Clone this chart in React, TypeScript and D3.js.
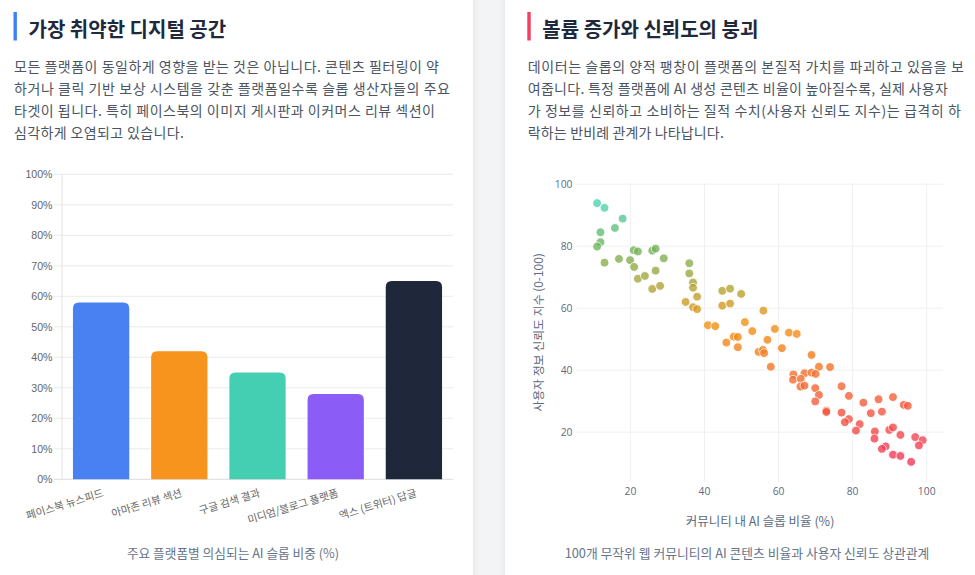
import * as d3 from 'd3';

// left card: share of suspected AI slop by platform
const platforms = ['페이스북 뉴스피드', '아마존 리뷰 섹션', '구글 검색 결과', '미디엄/블로그 플랫폼', '엑스 (트위터) 답글'];
const slopShare = [58, 42, 35, 28, 65];
const barColors = ['#4a81f2', '#f7941d', '#44cfb3', '#8b5cf6', '#1f283a'];
const pctTicks = [0, 10, 20, 30, 40, 50, 60, 70, 80, 90, 100];

// right card: 100 communities, AI slop ratio vs. trust index
const aiRatio = [
  11.0, 13.0, 17.9, 15.8, 11.9, 11.9, 11.0, 13.0, 16.9, 20.9, 22.0, 19.9, 21.0, 22.0, 23.9, 25.9,
  26.8, 26.8, 25.9, 28.0, 29.0, 35.9, 35.9, 36.9, 36.9, 38.0, 34.9, 36.9, 38.0, 44.8, 46.9, 49.9,
  44.8, 46.9, 40.9, 42.9, 50.9, 52.9, 47.9, 49.0, 45.9, 49.0, 54.6, 55.9, 59.0, 62.8, 64.9, 57.0,
  55.8, 56.1, 60.9, 57.9, 68.9, 70.9, 73.9, 64.0, 67.0, 68.9, 70.0, 63.9, 66.0, 65.9, 67.0, 69.9,
  70.9, 69.9, 72.9, 72.9, 77.0, 79.0, 82.9, 87.0, 90.9, 93.8, 94.9, 77.0, 84.9, 87.9, 79.0, 77.9,
  81.9, 80.9, 86.0, 89.9, 90.9, 92.9, 85.9, 96.9, 98.9, 97.9, 88.9, 87.9, 90.9, 92.9, 95.8,
];
const trustIndex = [
  93.9, 92.4, 88.9, 85.9, 84.5, 81.3, 79.9, 74.7, 75.9, 78.7, 78.3, 75.5, 73.3, 69.5, 70.4, 78.6,
  79.2, 72.1, 66.2, 67.2, 76.1, 74.5, 71.2, 68.3, 66.6, 63.7, 62.0, 60.3, 59.7, 65.6, 66.3, 64.6,
  60.8, 61.5, 54.5, 54.2, 55.5, 52.6, 50.8, 50.7, 48.9, 47.4, 45.9, 59.2, 53.3, 52.1, 51.7, 49.8,
  46.5, 45.5, 47.1, 41.1, 44.9, 41.1, 41.0, 38.6, 39.0, 39.2, 38.8, 36.9, 37.2, 34.7, 35.0, 34.2,
  32.0, 29.9, 26.9, 26.5, 34.8, 31.7, 29.5, 30.6, 31.3, 28.8, 28.5, 26.3, 26.1, 26.6, 24.2, 23.2,
  22.6, 20.5, 20.2, 20.7, 21.5, 19.1, 17.9, 18.4, 17.4, 15.7, 15.4, 14.6, 12.7, 12.3, 10.4,
];
const axisTicks = [20, 40, 60, 80, 100];
// marker colour follows the trust index
const trustStops = [12, 55, 65, 80, 94];
const trustColors = ['#f43859', '#f49311', '#bba231', '#6fb55e', '#4fd3b5'];

const leftText = [
  '모든 플랫폼이 동일하게 영향을 받는 것은 아닙니다. 콘텐츠 필터링이 약',
  '하거나 클릭 기반 보상 시스템을 갖춘 플랫폼일수록 슬롭 생산자들의 주요',
  '타겟이 됩니다. 특히 페이스북의 이미지 게시판과 이커머스 리뷰 섹션이',
  '심각하게 오염되고 있습니다.',
];
const rightText = [
  '데이터는 슬롭의 양적 팽창이 플랫폼의 본질적 가치를 파괴하고 있음을 보',
  '여줍니다. 특정 플랫폼에 AI 생성 콘텐츠 비율이 높아질수록, 실제 사용자',
  '가 정보를 신뢰하고 소비하는 질적 수치(사용자 신뢰도 지수)는 급격히 하',
  '락하는 반비례 관계가 나타납니다.',
];
// measured line widths of the paragraphs (the page font is proportional)
const leftWidths = [425, 436, 421, 170];
const rightWidths = [436, 420, 433, 196];

const W = 975;
const H = 575;
const KR = "'Noto Sans CJK KR', 'Noto Sans', sans-serif";
const LATIN = "'Liberation Sans', Arial, 'Noto Sans CJK KR', sans-serif";

function topRounded(x: number, y: number, w: number, h: number, r: number) {
  const rr = Math.min(r, w / 2, h);
  return `M${x},${y + h}V${y + rr}Q${x},${y} ${x + rr},${y}H${x + w - rr}Q${x + w},${y} ${x + w},${y + rr}V${y + h}Z`;
}

function Header({ x, color, title, lines, widths }: { x: number; color: string; title: string; lines: string[]; widths: number[] }) {
  return (
    <g>
      <rect x={x} y={12} width={3.4} height={28.5} fill={color} />
      <text x={x + 15} y={28} dominantBaseline="central" fontFamily={KR} fontSize={20} fontWeight={700} fill="#1e293b">
        {title}
      </text>
      {lines.map((l, i) => (
        <text
          key={i}
          x={x + 0.5}
          y={66 + i * 21.9}
          dominantBaseline="central"
          fontFamily={KR}
          fontSize={14}
          fill="#4b5563"
          textLength={widths[i]}
          lengthAdjust="spacing"
        >
          {l}
        </text>
      ))}
    </g>
  );
}

function BarChart() {
  const x = d3.scaleBand<string>().domain(platforms).range([62, 453]).paddingInner(0.28).paddingOuter(0.14);
  const y = d3.scaleLinear().domain([0, 100]).range([479.3, 174.3]);
  return (
    <g>
      {pctTicks.map((t) => (
        <g key={t}>
          <line x1={54} x2={453} y1={y(t)} y2={y(t)} stroke={t === 0 ? '#dcdcdc' : '#ececec'} strokeWidth={1} />
          <text x={52.5} y={y(t)} textAnchor="end" dominantBaseline="central" fontFamily={LATIN} fontSize={10.6} fill="#666">
            {t}%
          </text>
        </g>
      ))}
      <line x1={62} x2={62} y1={174.3} y2={479.3} stroke="#e2e2e2" />
      {platforms.map((p, i) => (
        <path
          key={p}
          d={topRounded(x(p)!, y(slopShare[i]), x.bandwidth(), y(0) - y(slopShare[i]), 6)}
          fill={barColors[i]}
        />
      ))}
      {platforms.map((p) => {
        const cx = x(p)! + x.bandwidth() / 2;
        return (
          <text
            key={p}
            transform={`translate(${cx + 1},${488.5}) rotate(-17)`}
            textAnchor="end"
            dy="0.75em"
            fontFamily={KR}
            fontSize={10.6}
            fill="#666"
          >
            {p}
          </text>
        );
      })}
      <text x={233} y={552.5} textAnchor="middle" dominantBaseline="central" fontFamily={KR} fontSize={12.7} fill="#64748b">
        주요 플랫폼별 의심되는 AI 슬롭 비중 (%)
      </text>
    </g>
  );
}

function Scatter() {
  const left = 576;
  const right = 943;
  const top = 183;
  const bottom = 482;
  const x = d3.scaleLinear().domain([5.3, 104.4]).range([left, right]);
  const y = d3.scaleLinear().domain([3.9, 100.4]).range([bottom, top]);
  const color = d3
    .scaleLinear<string>()
    .domain(trustStops)
    .range(trustColors)
    .interpolate(d3.interpolateRgb)
    .clamp(true);
  const pts = aiRatio.map((v, i) => ({ ai: v, trust: trustIndex[i] }));
  return (
    <g>
      {axisTicks.map((t) => (
        <g key={t}>
          <line x1={left} x2={right} y1={y(t)} y2={y(t)} stroke="#eef0f3" />
          <line x1={x(t)} x2={x(t)} y1={top} y2={bottom} stroke="#eef0f3" />
          <text x={left - 3.5} y={y(t)} textAnchor="end" dominantBaseline="central" fontFamily="'Open Sans', sans-serif" fontSize={10.3} fill="#5b6b82">
            {t}
          </text>
          <text x={x(t)} y={491} textAnchor="middle" dominantBaseline="central" fontFamily="'Open Sans', sans-serif" fontSize={10.3} fill="#5b6b82">
            {t}
          </text>
        </g>
      ))}
      {pts.map((d, i) => (
        <circle
          key={i}
          cx={x(d.ai)}
          cy={y(d.trust)}
          r={4.4}
          fill={color(d.trust)}
          stroke="#fff"
          strokeWidth={0.9}
          opacity={0.8}
        />
      ))}
      <text
        transform={`translate(537.5,${(top + bottom) / 2}) rotate(-90)`}
        textAnchor="middle"
        dominantBaseline="central"
        fontFamily={KR}
        fontSize={11.9}
        fill="#5b6b82"
      >
        사용자 정보 신뢰도 지수 (0-100)
      </text>
      <text x={760} y={520} textAnchor="middle" dominantBaseline="central" fontFamily={KR} fontSize={12.5} fill="#5b6b82">
        커뮤니티 내 AI 슬롭 비율 (%)
      </text>
      <text x={747} y={552.5} textAnchor="middle" dominantBaseline="central" fontFamily={KR} fontSize={12.8} fill="#64748b">
        100개 무작위 웹 커뮤니티의 AI 콘텐츠 비율과 사용자 신뢰도 상관관계
      </text>
    </g>
  );
}

export default function App() {
  return (
    <div style={{ position: 'fixed', left: 0, top: 0, width: W, height: H, background: '#f3f4f6' }}>
      <svg width={W} height={H} viewBox={`0 0 ${W} ${H}`} style={{ display: 'block' }}>
        <defs>
          <filter id="card-shadow" x="-10%" y="-10%" width="120%" height="120%">
            <feDropShadow dx="0" dy="1" stdDeviation="3" floodColor="#0f172a" floodOpacity="0.08" />
          </filter>
        </defs>
        <rect x={-30} y={-30} width={503} height={H + 60} fill="#fff" filter="url(#card-shadow)" />
        <rect x={505} y={-30} width={W} height={H + 60} fill="#fff" filter="url(#card-shadow)" />
        <Header x={13.5} color="#3b82f6" title="가장 취약한 디지털 공간" lines={leftText} widths={leftWidths} />
        <Header x={527.3} color="#f43f5e" title="볼륨 증가와 신뢰도의 붕괴" lines={rightText} widths={rightWidths} />
        <BarChart />
        <Scatter />
      </svg>
    </div>
  );
}
